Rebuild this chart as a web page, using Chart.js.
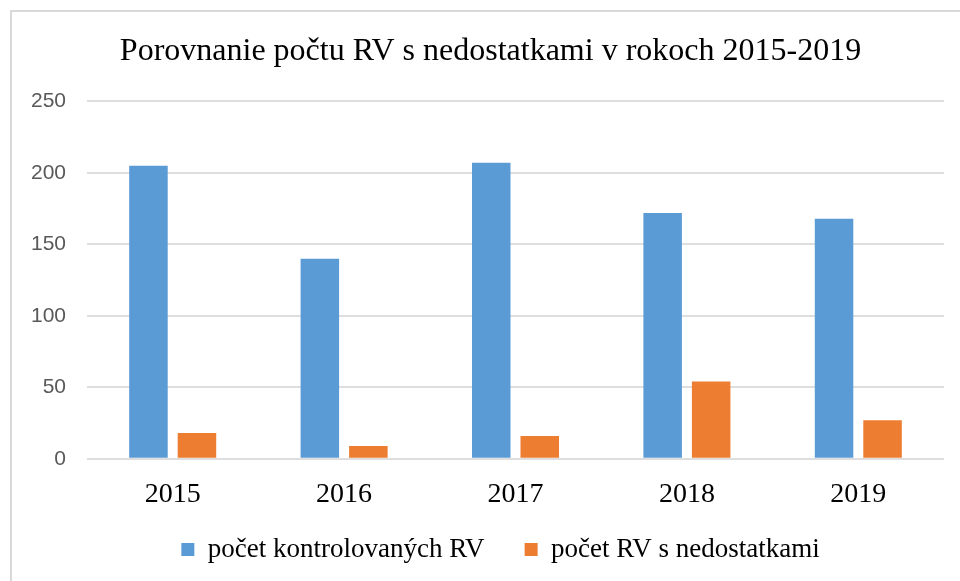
<!DOCTYPE html>
<html>
<head>
<meta charset="utf-8">
<script src="https://cdn.jsdelivr.net/npm/chart.js@4/dist/chart.umd.min.js"></script>
<style>
  html, body { margin: 0; padding: 0; background: #ffffff; }
  #wrap { position: relative; width: 960px; height: 581px; overflow: hidden; }
  #frame { position: absolute; left: 10px; top: 10px; right: -10px; bottom: -10px;
           border-top: 2px solid #d9d9d9; border-left: 2px solid #d9d9d9; pointer-events: none; }
  canvas { position: absolute; left: 0; top: 0; }
</style>
</head>
<body>
<div id="wrap">
  <canvas id="c" width="960" height="581"></canvas>
  <div id="frame"></div>
</div>
<script>
const chartTitle = "Porovnanie počtu RV s nedostatkami v rokoch 2015-2019";
const categories = ["2015", "2016", "2017", "2018", "2019"];
const seriesNames = ["počet kontrolovaných RV", "počet RV s nedostatkami"];
const controlled = [205, 140, 207, 172, 168];
const withDeficiencies = [18, 9, 16, 54, 27];
const yTicks = [0, 50, 100, 150, 200, 250];

const serif = "'Liberation Serif', 'Times New Roman', serif";
const sans = "'Liberation Sans', Arial, sans-serif";

// small nudge of the legend and title blocks (layout offsets, not data)
const blockNudge = {
  id: 'blockNudge',
  afterLayout(chart) {
    const l = chart.legend;
    if (l) {
      const dx = 14, dy = -26;
      l.left += dx; l.right += dx; l.top += dy; l.bottom += dy;
    }
    const t = chart.titleBlock;
    if (t) { t.left += 4; t.right += 4; }
  }
};

new Chart(document.getElementById('c'), {
  type: 'bar',
  data: {
    labels: categories,
    datasets: [
      { label: seriesNames[0], data: controlled, backgroundColor: '#5B9BD5',
        categoryPercentage: 0.566, barPercentage: 0.794 },
      { label: seriesNames[1], data: withDeficiencies, backgroundColor: '#ED7D31',
        categoryPercentage: 0.566, barPercentage: 0.794 }
    ]
  },
  plugins: [blockNudge],
  options: {
    responsive: false,
    animation: false,
    events: [],
    layout: { padding: { left: 29, right: 16, top: 32, bottom: -18 } },
    plugins: {
      title: {
        display: true, text: chartTitle, color: '#000000',
        font: { family: serif, size: 32, weight: 'normal' },
        padding: { top: 0, bottom: 31 }
      },
      legend: {
        position: 'bottom',
        labels: {
          color: '#000000', boxWidth: 13, boxHeight: 13, padding: 40,
          font: { family: serif, size: 27 }
        }
      },
      tooltip: { enabled: false }
    },
    scales: {
      x: {
        grid: { display: false },
        border: { display: false },
        ticks: { color: '#000000', font: { family: serif, size: 28, lineHeight: 0.9 }, padding: 15 }
      },
      y: {
        min: yTicks[0], max: yTicks[yTicks.length - 1],
        afterBuildTicks: (s) => { s.ticks = yTicks.map(v => ({ value: v })); },
        afterFit: (s) => { s.width = 58; },
        grid: { color: '#dedede', lineWidth: 2, drawTicks: false },
        border: { display: false },
        ticks: { color: '#595959', font: { family: sans, size: 21 }, padding: 21 }
      }
    }
  }
});
</script>
</body>
</html>
